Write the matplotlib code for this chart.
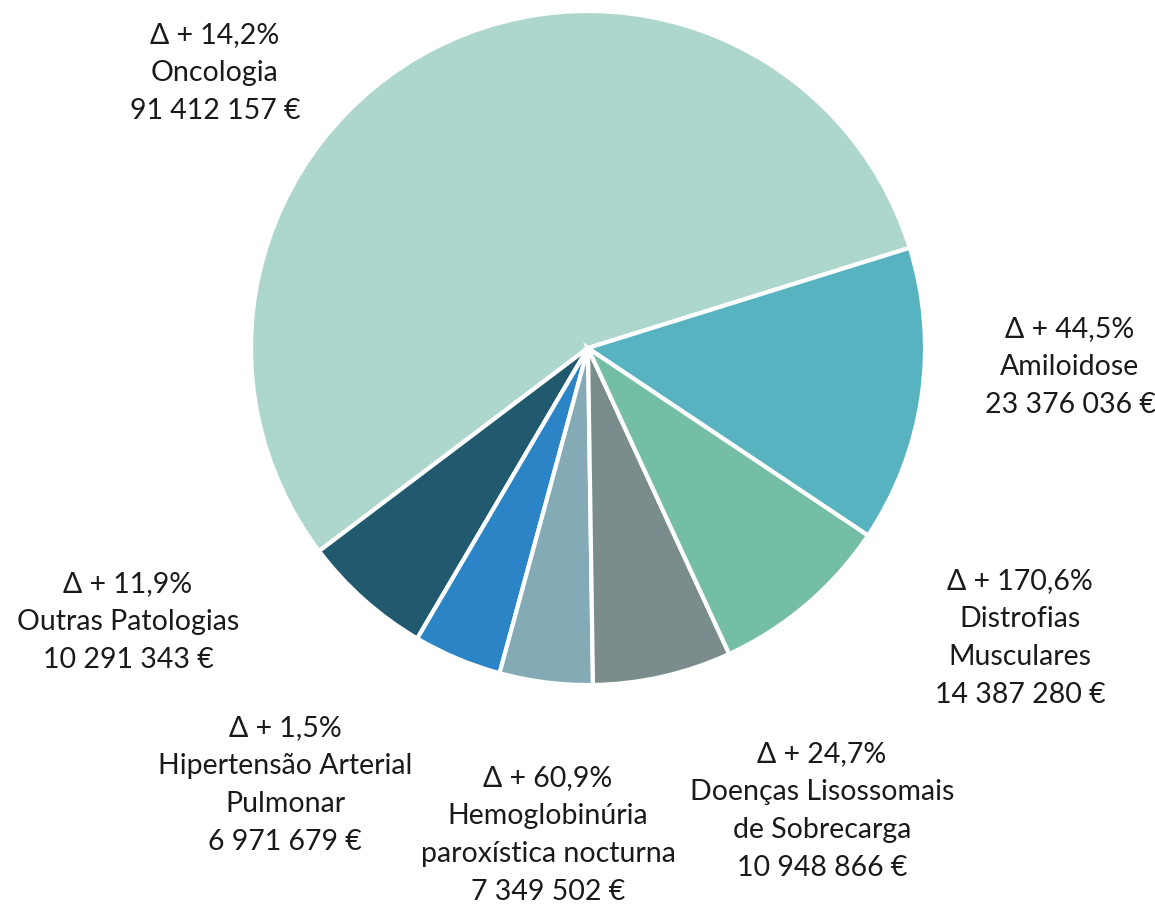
import matplotlib
matplotlib.use("Agg")
import matplotlib.pyplot as plt

# slices, counter-clockwise from the Oncologia start edge
names = ["Oncologia", "Outras Patologias", "Hipertensão Arterial\nPulmonar",
         "Hemoglobinúria\nparoxística nocturna", "Doenças Lisossomais\nde Sobrecarga",
         "Distrofias\nMusculares", "Amiloidose"]
values = [91412157, 10291343, 6971679, 7349502, 10948866, 14387280, 23376036]
deltas = ["14,2%", "11,9%", "1,5%", "60,9%", "24,7%", "170,6%", "44,5%"]
colors = ["#ADD6CC", "#215A6E", "#2A84C6", "#84ABB5", "#7A8C8C", "#75BEA6", "#57B3C0"]

# label centres in pixels (layout only)
label_px = [(215, 73), (128, 622), (285, 785), (548, 835), (822, 811), (1020, 638), (1070, 367)]

W, H = 1155, 907
cx, cy, R = 588, 348, 337

fig = plt.figure(figsize=(W / 100, H / 100), dpi=100)
ax = fig.add_axes([0, 0, 1, 1])

ax.pie(values, colors=colors, startangle=17.3, counterclock=True,
       wedgeprops=dict(edgecolor="white", linewidth=3))

ax.set_xlim(-cx / R, (W - cx) / R)
ax.set_ylim((cy - H) / R, cy / R)
ax.set_aspect("auto")
ax.axis("off")


def fmt_eur(v):
    return f"{v:,}".replace(",", " ") + " €"


for name, v, d, (px, py) in zip(names, values, deltas, label_px):
    txt = f"Δ + {d}\n{name}\n{fmt_eur(v)}"
    ax.text((px - cx) / R, (cy - py) / R, txt, ha="center", va="center",
            fontsize=20.5, linespacing=1.58, color="#1a1a1a",
            family=["Lato", "DejaVu Sans"])

fig.savefig("out.png", dpi=100)
